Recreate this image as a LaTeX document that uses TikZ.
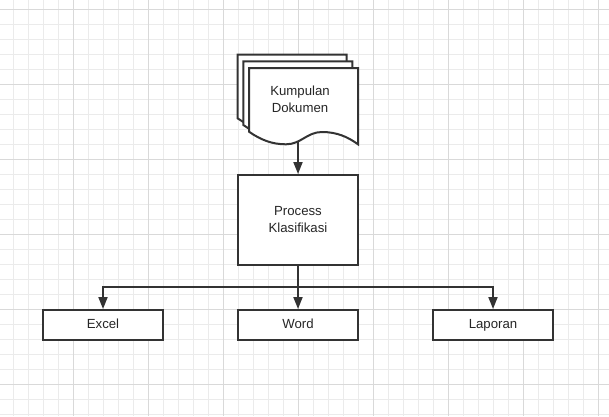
\documentclass[tikz,border=0pt]{standalone}
\usepackage{fontspec}
\setmainfont{Liberation Sans}
\usetikzlibrary{arrows.meta}
\definecolor{ink}{HTML}{333333}
\definecolor{gridminor}{HTML}{EBEBEB}
\definecolor{gridmajor}{HTML}{D9D9D9}
\tikzset{
  minorline/.style={draw=gridminor, line width=1pt},
  majorline/.style={draw=gridmajor, line width=1pt},
  box/.style={draw=ink, line width=2pt, fill=white, rectangle, inner sep=0pt,
    minimum width=120pt, font=\fontsize{13.2pt}{17pt}\selectfont, text=black!85, align=center},
  onerow/.style={minimum height=30pt, text height=9.5pt, text depth=2.8pt},
  sheet/.style={draw=ink, line width=2pt, fill=white, line join=miter},
  arr/.style={draw=ink, line width=1.8pt, -{Triangle[length=12pt,width=9pt]}},
  doctext/.style={font=\fontsize{13.2pt}{17pt}\selectfont, text=black!85, align=center, inner sep=0pt}
}
\begin{document}
\begin{tikzpicture}[x=1pt, y=-1pt]
\useasboundingbox (0,0) rectangle (609,416);
\fill[white] (0,0) rectangle (609,416);
% grid
\foreach \i in {0,...,39} \draw[minorline] ({13.3+15*\i},0) -- ({13.3+15*\i},416);
\foreach \i in {0,...,27} \draw[minorline] (0,{9.3+15*\i}) -- (609,{9.3+15*\i});
\foreach \i in {0,...,7} \draw[majorline] ({73.3+75*\i},0) -- ({73.3+75*\i},416);
\foreach \i in {0,...,5} \draw[majorline] (0,{9.3+75*\i}) -- (609,{9.3+75*\i});
% document stack
\foreach \s in {2,1,0}{
  \begin{scope}[shift={({-5.7*\s},{-6.7*\s})}]
    \draw[sheet] (249,68) -- (358,68) -- (358,144.3)
      .. controls (348,137) and (337,132) .. (322,132)
      .. controls (307,132) and (301,144.3) .. (286,144.3)
      .. controls (272,144.3) and (261,140) .. (249,131.7) -- cycle;
  \end{scope}
}
\node[doctext] (doc) at (300,99.5) {Kumpulan\\Dokumen};
\coordinate (docb) at (298,140.5);
% boxes
\node[box, minimum height=90pt] (proc) at (298,220) {Process\\Klasifikasi};
\node[box, onerow] (excel) at (103,325) {Excel};
\node[box, onerow] (word) at (298,325) {Word};
\node[box, onerow] (lap) at (493,325) {Laporan};
\coordinate (split) at (298,287);
% connectors
\draw[arr] (docb) -- (proc.north);
\draw[arr] (proc.south) -- (word.north);
\draw[arr] (split) -| (excel.north);
\draw[arr] (split) -| (lap.north);
\end{tikzpicture}
\end{document}
